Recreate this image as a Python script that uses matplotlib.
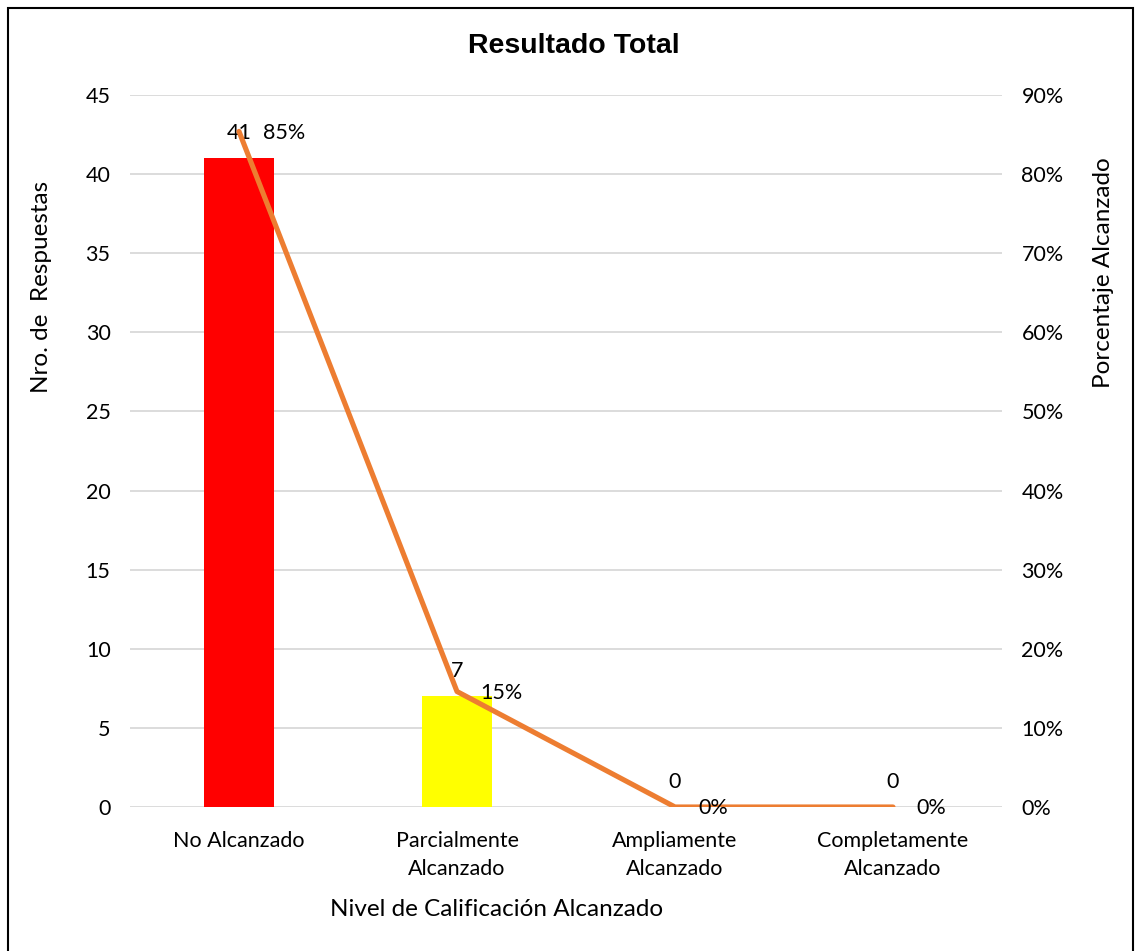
import matplotlib
matplotlib.use("Agg")
import matplotlib.pyplot as plt
from matplotlib.patches import Rectangle

categories = ["No Alcanzado", "Parcialmente\nAlcanzado", "Ampliamente\nAlcanzado", "Completamente\nAlcanzado"]
counts = [41, 7, 0, 0]
percents = [0.854, 0.146, 0.0, 0.0]
pct_labels = ["85%", "15%", "0%", "0%"]
bar_colors = ["#FF0000", "#FFFF00", "#4472C4", "#4472C4"]
left_ticks = [0, 5, 10, 15, 20, 25, 30, 35, 40, 45]
right_ticks = [0, 0.1, 0.2, 0.3, 0.4, 0.5, 0.6, 0.7, 0.8, 0.9]

W, H = 1136, 951
fig = plt.figure(figsize=(W / 100, H / 100), dpi=100)
font = ["Lato", "DejaVu Sans"]
plt.rcParams["font.family"] = font
FS = 15.5

ax = fig.add_axes([130 / W, 1 - 807 / H, 872 / W, 712 / H])
x = list(range(len(categories)))
ax.bar(x, counts, width=0.317, color=bar_colors, zorder=2)
ax.set_xlim(-0.5, 3.5)
ax.set_ylim(0, 45)
ax.set_yticks(left_ticks)
ax.set_yticklabels([str(t) for t in left_ticks], fontsize=FS)
ax.set_xticks(x)
ax.set_xticklabels(categories, fontsize=FS, linespacing=1.55)
ax.tick_params(axis="both", length=0)
ax.tick_params(axis="y", pad=14)
ax.tick_params(axis="x", pad=17)
ax.grid(axis="y", color="#D9D9D9", linewidth=1.3, zorder=0)
ax.set_axisbelow(True)
for s in ax.spines.values():
    s.set_visible(False)

ax2 = ax.twinx()
ax2.set_ylim(0, 0.9)
ax2.set_yticks(right_ticks)
ax2.set_yticklabels([f"{int(round(t*100))}%" for t in right_ticks], fontsize=FS)
ax2.tick_params(axis="y", length=0, pad=14)
for s in ax2.spines.values():
    s.set_visible(False)
ax2.plot(x, percents, color="#ED7D31", linewidth=3.7, solid_capstyle="round", zorder=3)

for xi, c in zip(x, counts):
    ax.annotate(str(c), (xi, c), xytext=(0, 18), textcoords="offset points",
                ha="center", va="center", fontsize=FS, zorder=5)
for xi, p, lab in zip(x, percents, pct_labels):
    ax2.annotate(lab, (xi, p), xytext=(17, -1), textcoords="offset points",
                 ha="left", va="center", fontsize=FS, zorder=5)

fig.text(574 / W, 1 - 46 / H, "Resultado Total", ha="center", va="center",
         fontsize=20.5, fontweight="bold", family="Liberation Sans")
fig.text(42 / W, 1 - 287 / H, "Nro. de  Respuestas", rotation=90, ha="center", va="center", fontsize=17.5)
fig.text(1103 / W, 1 - 273 / H, "Porcentaje Alcanzado", rotation=90, ha="center", va="center", fontsize=17.5)
fig.text(497 / W, 1 - 910 / H, "Nivel de Calificación Alcanzado", ha="center", va="center", fontsize=17.5)

fig.patches.append(Rectangle((8 / W, -0.05), 1125 / W, 1.05 - 8 / H, transform=fig.transFigure,
                             fill=False, edgecolor="black", linewidth=1.5))

fig.savefig("out.png", dpi=100, facecolor="white")
